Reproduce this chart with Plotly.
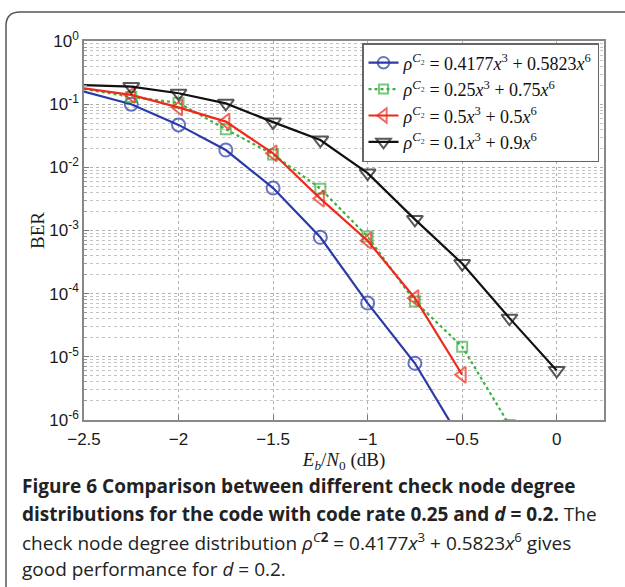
import plotly.graph_objects as go

# Eb/N0 grid (dB)
snr = [-2.5, -2.25, -2.0, -1.75, -1.5, -1.25, -1.0, -0.75, -0.5, -0.25, 0.0]

# BER curves for each check node degree distribution
ber_a = [0.158, 0.100, 0.047, 0.0188, 0.0047, 0.00078, 7.1e-5, 7.9e-6, 4.5e-7]
ber_b = [0.175, 0.130, 0.105, 0.040, 0.0160, 0.0046, 8.0e-4, 7.5e-5, 1.45e-5, 8.3e-7]
ber_c = [0.178, 0.140, 0.089, 0.053, 0.0167, 0.0032, 6.9e-4, 8.5e-5, 5.2e-6]
ber_d = [0.200, 0.190, 0.149, 0.103, 0.052, 0.027, 0.0081, 0.0015, 3.0e-4, 4.1e-5, 6.1e-6]

names = [
    "<i>ρ</i><sup><i>C</i>₂</sup> = 0.4177<i>x</i><sup>3</sup> + 0.5823<i>x</i><sup>6</sup>",
    "<i>ρ</i><sup><i>C</i>₂</sup> = 0.25<i>x</i><sup>3</sup> + 0.75<i>x</i><sup>6</sup>",
    "<i>ρ</i><sup><i>C</i>₂</sup> = 0.5<i>x</i><sup>3</sup> + 0.5<i>x</i><sup>6</sup>",
    "<i>ρ</i><sup><i>C</i>₂</sup> = 0.1<i>x</i><sup>3</sup> + 0.9<i>x</i><sup>6</sup>",
]

x_ticks = [-2.5, -2.0, -1.5, -1.0, -0.5, 0.0]
x_ticktext = ["−2.5", "−2", "−1.5", "−1", "−0.5", "0"]
y_ticks = [1e0, 1e-1, 1e-2, 1e-3, 1e-4, 1e-5, 1e-6]
y_ticktext = ["10<sup>0</sup>", "10<sup>-1</sup>", "10<sup>-2</sup>", "10<sup>-3</sup>",
              "10<sup>-4</sup>", "10<sup>-5</sup>", "10<sup>-6</sup>"]
# log-decade minor grid positions (2..9 x 10^e)
y_minor = [k * 10.0 ** e for e in range(-6, 0) for k in range(2, 10)]

W, H = 625, 587
ML, MR, MT, MB = 84, 21, 41, 167
PW, PH = W - ML - MR, H - MT - MB


def px(xp):
    return (xp - ML) / PW


def py(yp):
    return (H - MB - yp) / PH


fig = go.Figure()

series = [
    (ber_a, names[0], "#2a3aa8", "solid", "circle-open", 13),
    (ber_b, names[1], "#3cb043", "dot", "square-open", 10),
    (ber_c, names[2], "#ee2a1b", "solid", "triangle-left-open", 14),
    (ber_d, names[3], "#111111", "solid", "triangle-down-open", 14),
]
for ys, name, color, dash, symbol, size in series:
    xs = snr[:len(ys)]
    sizes = [0] + [size] * (len(ys) - 1)
    fig.add_trace(go.Scatter(
        x=xs, y=ys, name=name, mode="lines+markers",
        line=dict(color=color, width=2.2, dash=dash),
        marker=dict(symbol=symbol, size=sizes, color=color,
                    line=dict(color=color, width=2)),
        cliponaxis=True,
    ))

grid_col = "#b0b0b0"
fig.update_xaxes(
    range=[-2.5, 0.25], tickvals=x_ticks, ticktext=x_ticktext,
    showgrid=True, gridcolor=grid_col, griddash="dot", gridwidth=1,
    ticks="inside", ticklen=5, tickcolor="#777",
    showline=True, linecolor="#888", linewidth=1.5, mirror=True,
    zeroline=False, ticklabelstandoff=3,
    tickfont=dict(family="Liberation Sans", size=17, color="#1a1a1a"),
    title=dict(text="<i>E</i><sub><i>b</i></sub>/<i>N</i><sub>0</sub> (dB)",
               font=dict(family="Liberation Serif", size=19, color="#1a1a1a"),
               standoff=0),
)
fig.update_yaxes(
    type="log", range=[-6, 0], tickvals=y_ticks, ticktext=y_ticktext,
    showgrid=True, gridcolor=grid_col, griddash="dot", gridwidth=1,
    minor=dict(tickmode="array", tickvals=y_minor, showgrid=True,
               gridcolor="#c4c4c4", griddash="dot", gridwidth=1,
               ticks="inside", ticklen=3, tickcolor="#999"),
    ticks="inside", ticklen=5, tickcolor="#777",
    showline=True, linecolor="#888", linewidth=1.5, mirror=True,
    tickfont=dict(family="Liberation Sans", size=17, color="#1a1a1a"),
    title=dict(text="BER", font=dict(family="Liberation Serif", size=19, color="#1a1a1a"),
               standoff=0),
)

# outer rounded frame of the figure panel
r = 14
fig.add_shape(
    type="path", xref="paper", yref="paper",
    path=(f"M {px(6)},{py(620)} L {px(6)},{py(12 + r)} "
          f"Q {px(6)},{py(12)} {px(6 + r)},{py(12)} L {px(660)},{py(12)}"),
    line=dict(color="#555", width=1.5), layer="below",
)

cap_font = dict(family="Open Sans", size=19, color="#222")
lines = [
    (486, "<b>Figure 6 Comparison between different check node degree</b>"),
    (514, "<b>distributions for the code with code rate 0.25 and <i>d</i> = 0.2.</b> The"),
    (542, "check node degree distribution <i>ρ</i><sup><i>C</i><b>2</b></sup> = 0.4177<i>x</i><sup>3</sup>"
          " + 0.5823<i>x</i><sup>6</sup> gives"),
    (569, "good performance for <i>d</i> = 0.2."),
]
for yp, txt in lines:
    fig.add_annotation(x=px(20), y=py(yp), xref="paper", yref="paper",
                       text=txt, showarrow=False, xanchor="left", yanchor="middle",
                       align="left", font=cap_font)

fig.update_layout(
    width=W, height=H,
    margin=dict(l=ML, r=MR, t=MT, b=MB),
    paper_bgcolor="white", plot_bgcolor="white",
    showlegend=True,
    legend=dict(x=px(599), y=py(43), xanchor="right", yanchor="top",
                bgcolor="white", bordercolor="#666", borderwidth=1.5,
                font=dict(family="Liberation Serif", size=18, color="#111"),
                itemwidth=30, tracegroupgap=0),
)

fig.write_html("out.html")
